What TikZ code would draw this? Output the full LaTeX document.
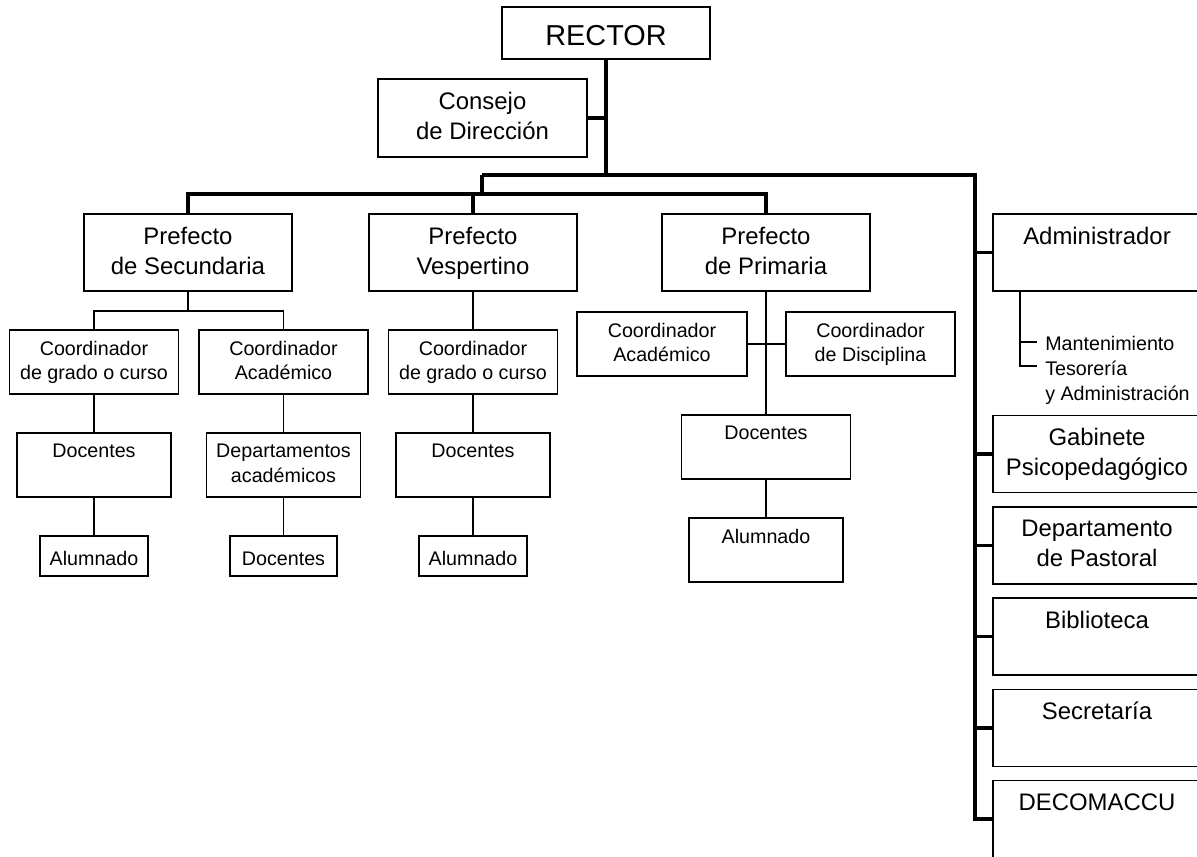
\documentclass[tikz,border=0pt]{standalone}
\usepackage{fontspec}
\setmainfont{Liberation Sans}
\newcommand{\px}{0.025cm}
\newcommand{\rectortxt}{\fontsize{20.5}{24}\selectfont}
\newcommand{\bigtxt}{\fontsize{17}{21.3}\selectfont}
\newcommand{\smalltxt}{\fontsize{14}{17.7}\selectfont}
\newcommand{\st}{\rule[-0.13\baselineskip]{0pt}{\baselineskip}}

\begin{document}
\begin{tikzpicture}
  [x=\px,y=-\px,
   box/.style={draw,line width=0.9pt,align=center,inner sep=0pt,
     execute at begin node=\st,execute at end node=\st},
   wh/.style 2 args={minimum width=#1*\px,minimum height=#2*\px},
   big/.style={box,wh={208}{77},font=\bigtxt,text depth=2.8pt},
   small/.style={box,font=\smalltxt,text depth=2.3pt},
   trunk/.style={line width=2.4pt},
   link/.style={line width=1pt}]
  \useasboundingbox (0,0) rectangle (1197,856);
  \clip (0,0) rectangle (1197,856);

  \node[box,wh={208}{52},font=\rectortxt] (rector) at (606,33) {RECTOR};
  \node[big,wh={209}{78}] (consejo) at (482.5,118) {Consejo\\de Dirección};

  \node[big] (psec) at (188,252.5) {Prefecto\\de Secundaria};
  \node[big] (pves) at (473,252.5) {Prefecto\\Vespertino};
  \node[big] (ppri) at (766,252.5) {Prefecto\\de Primaria};

  \node[big] (admin) at (1097,252.5) {Administrador\\~};
  \node[big] (gabinete) at (1097,454) {Gabinete\\Psicopedagógico};
  \node[big] (pastoral) at (1097,545.5) {Departamento\\de Pastoral};
  \node[big] (biblio) at (1097,636.5) {Biblioteca\\~};
  \node[big] (secret) at (1097,728) {Secretaría\\~};
  \node[big] (decom) at (1097,819) {DECOMACCU\\~};

  \node[small,wh={169}{64}] (cgsec) at (94,362) {Coordinador\\de grado o curso};
  \node[small,wh={169}{64}] (casec) at (283.5,362) {Coordinador\\Académico};
  \node[small,wh={154}{64}] (docsec) at (94,465) {Docentes\\~};
  \node[small,wh={154}{64}] (deptos) at (283.5,465) {Departamentos\\académicos};
  \node[small,wh={108}{40}] (alsec) at (94,556) {Alumnado};
  \node[small,wh={107}{40}] (docdep) at (283.5,556) {Docentes};

  \node[small,wh={169}{64}] (cgves) at (473,362) {Coordinador\\de grado o curso};
  \node[small,wh={154}{64}] (docves) at (473,465) {Docentes\\~};
  \node[small,wh={108}{40}] (alves) at (473,556) {Alumnado};

  \node[small,wh={170}{64}] (capri) at (662,344) {Coordinador\\Académico};
  \node[small,wh={169}{64}] (cdpri) at (870.5,344) {Coordinador\\de Disciplina};
  \node[small,wh={169}{64}] (docpri) at (766,447) {Docentes\\~};
  \node[small,wh={154}{64}] (alpri) at (766,550) {Alumnado\\~};

  \node[font=\smalltxt,align=left,anchor=north west,inner sep=0pt] (adminsub) at (1045,336)
    {Mantenimiento\\Tesorería\\y Administración};

  \coordinate (top) at (482,175);
  \coordinate (topr) at (975,175);
  \coordinate (mid) at (482,194);
  \coordinate (jsec) at (188,311);
  \coordinate (adm0) at (1020,291);
  \coordinate (mant) at (1037,342);
  \coordinate (teso) at (1037,366);

  \draw[trunk] (rector) -- (rector |- top);
  \draw[trunk] (consejo) -- (consejo -| rector);
  \draw[trunk] (top) -- (topr) |- (decom);
  \draw[trunk] (top) -- (mid);
  \draw[trunk] (psec) |- (mid) -| (ppri);
  \draw[trunk] (pves) -- (pves |- mid);
  \foreach \n in {admin,gabinete,pastoral,biblio,secret}
    \draw[trunk] (\n) -- (\n -| topr);

  \draw[link] (psec) -- (jsec);
  \draw[link] (cgsec) |- (jsec) -| (casec);
  \draw[link] (cgsec) -- (docsec) -- (alsec);
  \draw[link] (casec) -- (deptos) -- (docdep);
  \draw[link] (pves) -- (cgves) -- (docves) -- (alves);
  \draw[link] (ppri) -- (docpri) -- (alpri);
  \draw[link] (capri) -- (cdpri);
  \draw[link] (adm0) |- (teso);
  \draw[link] (mant -| adm0) -- (mant);
\end{tikzpicture}
\end{document}
